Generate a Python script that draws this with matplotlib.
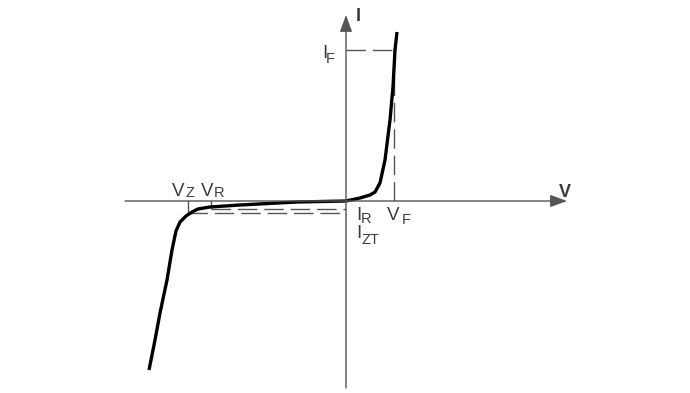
"""
Zener diode I-V characteristic (schematic).
Units are arbitrary; origin sits where the V and I axes cross.
"""
import matplotlib
matplotlib.use("Agg")
import matplotlib.pyplot as plt

plt.rcParams["font.family"] = ["Liberation Sans", "DejaVu Sans"]

# forward branch (V > 0)
fwd_v = [0, 14, 24, 29, 34, 39, 44, 47, 49, 51]
fwd_i = [0, 3, 6, 9, 18, 41, 81, 114, 151, 169]

# reverse branch with breakdown (V < 0)
rev_v = [0, -49, -106, -136, -148, -154, -160, -166, -170, -174, -179, -186, -191, -197]
rev_i = [0, -1, -4, -6, -8, -11, -15, -21, -30, -49, -79, -112, -139, -169]

# marked operating points
V_F, I_F = 48, 151
V_R, I_R = -135, -8
V_Z, I_ZT = -158, -12

AX_COLOR = "#555555"
TXT_COLOR = "#3c3c3c"

fig = plt.figure(figsize=(6.9, 3.93), dpi=100)
ax = fig.add_axes([0, 0, 1, 1])
ax.set_xlim(-346, 344)
ax.set_ylim(-192, 201)
ax.axis("off")

# axes with arrows
arrow = dict(arrowstyle="-|>,head_length=0.6,head_width=0.22", color=AX_COLOR,
             lw=1.0, mutation_scale=17, shrinkA=0, shrinkB=0)
ax.annotate("", xy=(221, 0), xytext=(-221, 0), arrowprops=arrow)
ax.annotate("", xy=(0, 186), xytext=(0, -187), arrowprops=arrow)

# dashed guide lines
dash = dict(color=AX_COLOR, lw=1.0, linestyle=(0, (14, 5)))
ax.plot([0, V_F], [I_F, I_F], **dash)
ax.plot([V_F, V_F], [0, I_F], **dash)
ax.plot([V_R, 0], [I_R, I_R], **dash)
ax.plot([V_Z, 0], [I_ZT, I_ZT], **dash)

# small ticks at V_Z and V_R
ax.plot([V_Z, V_Z], [0, I_ZT + 1], color=AX_COLOR, lw=1.0)
ax.plot([V_R, V_R], [0, I_R + 1], color=AX_COLOR, lw=1.0)

# characteristic curve
ax.plot(fwd_v, fwd_i, color="black", lw=2.4, solid_capstyle="butt",
        solid_joinstyle="round")
ax.plot(rev_v, rev_i, color="black", lw=2.4, solid_capstyle="butt",
        solid_joinstyle="round")


def label(v, i, main, sub, sub_dv, sub_di):
    ax.text(v, i, main, fontsize=13.5, color=TXT_COLOR, ha="left", va="baseline")
    ax.text(v + sub_dv, i + sub_di, sub, fontsize=10.5, color=TXT_COLOR,
            ha="left", va="baseline")


label(-174, 5, "V", "Z", 14, -1)
label(-145, 5, "V", "R", 13, -1)
label(-24, 143, "I", "F", 4, -5)
label(10, -19, "I", "R", 5, -3)
label(10, -37, "I", "ZT", 5, -6)
label(41, -19, "V", "F", 15, -4)

ax.text(10, 180, "I", fontsize=13, fontweight="bold", color=TXT_COLOR,
        ha="left", va="baseline")
ax.text(213, 4, "V", fontsize=13, fontweight="bold", color=TXT_COLOR,
        ha="left", va="baseline")

fig.savefig("out.png", dpi=100)
